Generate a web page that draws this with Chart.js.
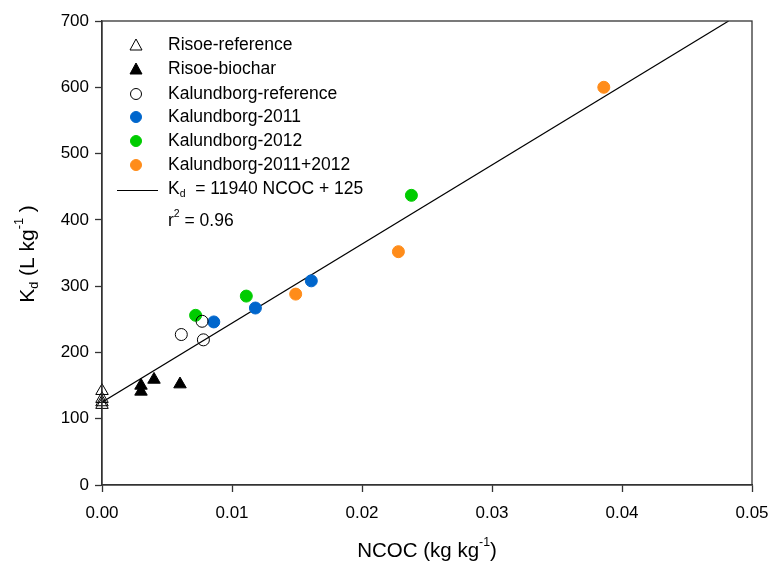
<!DOCTYPE html>
<html>
<head>
<meta charset="utf-8">
<script src="https://cdn.jsdelivr.net/npm/chart.js@4/dist/chart.umd.min.js"></script>
<style>
  html, body { margin:0; padding:0; background:#fff; }
  #wrap { width:778px; height:566px; }
</style>
</head>
<body>
<div id="wrap"><canvas id="kdChart" width="778" height="566"></canvas></div>
<script>
// values
const risoeRefX = [0, 0, 0, 0];
const risoeRefY = [142, 130, 125, 121];
const risoeBioX = [0.003, 0.003, 0.004, 0.006];
const risoeBioY = [150, 141, 159, 152];
const kalRefX = [0.0061, 0.0077, 0.0078];
const kalRefY = [227, 247, 219];
const kal2011X = [0.0086, 0.0118, 0.0161];
const kal2011Y = [246, 267, 308];
const kal2012X = [0.0072, 0.0111, 0.0238];
const kal2012Y = [256, 285, 437];
const kalBothX = [0.0149, 0.0228, 0.0386];
const kalBothY = [288, 352, 600];
// regression line end points (Kd = 11940 NCOC + 125)
const fitX = [0, 0.0482];
const fitY = [125, 700];

const xTicks = [0, 0.01, 0.02, 0.03, 0.04, 0.05];
const yTicks = [0, 100, 200, 300, 400, 500, 600, 700];

const FONT = "'Liberation Sans', Arial, sans-serif";

function pts(xs, ys){ return xs.map((x,i)=>({x:x, y:ys[i]})); }

const series = [
  { label:'Risoe-reference', x:risoeRefX, y:risoeRefY, style:'triangle', fill:'rgba(0,0,0,0)', stroke:'#000' },
  { label:'Risoe-biochar', x:risoeBioX, y:risoeBioY, style:'triangle', fill:'#000', stroke:'#000' },
  { label:'Kalundborg-reference', x:kalRefX, y:kalRefY, style:'circle', fill:'rgba(0,0,0,0)', stroke:'#000' },
  { label:'Kalundborg-2011', x:kal2011X, y:kal2011Y, style:'circle', fill:'#0066CC', stroke:'#0066CC' },
  { label:'Kalundborg-2012', x:kal2012X, y:kal2012Y, style:'circle', fill:'#00CC00', stroke:'#00CC00' },
  { label:'Kalundborg-2011+2012', x:kalBothX, y:kalBothY, style:'circle', fill:'#FF8C1A', stroke:'#FF8C1A' }
];

const datasets = [{
  type:'line', label:'fit', data:pts(fitX, fitY), borderColor:'#000', borderWidth:1.2,
  pointRadius:0, fill:false, order:10
}];
series.forEach(s=>{
  datasets.push({
    type:'scatter', label:s.label, data:pts(s.x, s.y),
    pointStyle:s.style, pointRadius: s.style==='triangle' ? 7.2 : 6,
    pointBackgroundColor:s.fill, pointBorderColor:s.stroke, pointBorderWidth:1,
    clip:false, order:1
  });
});

// draw text pieces with sub/superscripts
function drawRich(ctx, parts, x, y, size, align){
  let total = 0;
  parts.forEach(p=>{
    ctx.font = (p.s ? size*0.6 : size) + 'px ' + FONT;
    total += ctx.measureText(p.t).width;
  });
  let cx = align === 'center' ? x - total/2 : x;
  parts.forEach(p=>{
    ctx.font = (p.s ? size*0.6 : size) + 'px ' + FONT;
    let dy = 0;
    if (p.s === 'sub') dy = size*0.3;
    if (p.s === 'sup') dy = -size*0.42;
    ctx.fillText(p.t, cx, y + dy);
    cx += ctx.measureText(p.t).width;
  });
}

function marker(ctx, style, fill, stroke, x, y){
  ctx.beginPath();
  if (style === 'circle') {
    ctx.arc(x, y, 5.5, 0, Math.PI*2);
  } else {
    ctx.moveTo(x, y-6);
    ctx.lineTo(x+6, y+5);
    ctx.lineTo(x-6, y+5);
    ctx.closePath();
  }
  ctx.fillStyle = fill;
  ctx.fill();
  ctx.lineWidth = 1;
  ctx.strokeStyle = stroke;
  ctx.stroke();
}

const decor = {
  id:'decor',
  afterDraw(chart){
    const ctx = chart.ctx;
    const a = chart.chartArea;
    ctx.save();
    // frame
    ctx.strokeStyle = '#333';
    ctx.lineWidth = 1.3;
    ctx.strokeRect(a.left, a.top, a.right - a.left, a.bottom - a.top);

    // legend
    ctx.fillStyle = '#000';
    ctx.textBaseline = 'middle';
    ctx.textAlign = 'left';
    const rowY = [45, 69, 94, 117, 141, 165];
    series.forEach((s,i)=>{
      marker(ctx, s.style, s.fill === 'rgba(0,0,0,0)' ? '#fff' : s.fill, s.stroke, 136, rowY[i]);
      ctx.fillStyle = '#000';
      ctx.font = '17.5px ' + FONT;
      ctx.fillText(s.label, 168, rowY[i]);
    });
    ctx.beginPath();
    ctx.moveTo(117, 190.5);
    ctx.lineTo(158, 190.5);
    ctx.strokeStyle = '#000';
    ctx.lineWidth = 1.2;
    ctx.stroke();
    ctx.fillStyle = '#000';
    drawRich(ctx, [{t:'K'},{t:'d',s:'sub'},{t:'  = 11940 NCOC + 125'}], 168, 189, 17.5, 'left');
    drawRich(ctx, [{t:'r'},{t:'2',s:'sup'},{t:' = 0.96'}], 168, 221, 17.5, 'left');

    // axis titles
    drawRich(ctx, [{t:'NCOC (kg kg'},{t:'-1',s:'sup'},{t:')'}], (a.left + a.right)/2, 551, 20.5, 'center');
    ctx.translate(28, 254);
    ctx.rotate(-Math.PI/2);
    drawRich(ctx, [{t:'K'},{t:'d',s:'sub'},{t:' (L kg'},{t:'-1',s:'sup'},{t:' )'}], 0, 0, 21, 'center');
    ctx.restore();
  }
};

new Chart(document.getElementById('kdChart'), {
  data:{ datasets:datasets },
  options:{
    responsive:false,
    animation:false,
    layout:{ padding:{ top:21, right:26, left:0, bottom:0 } },
    plugins:{ legend:{ display:false }, tooltip:{ enabled:false } },
    scales:{
      x:{
        type:'linear', min:0, max:0.05,
        afterBuildTicks(scale){ scale.ticks = xTicks.map(v=>({value:v})); },
        afterFit(scale){ scale.height = 81; scale.paddingRight = 0; scale.paddingLeft = 0; },
        grid:{ drawOnChartArea:false, drawTicks:true, tickLength:7, color:'#333', tickWidth:1.3 },
        border:{ color:'#333', width:1.3 },
        ticks:{ color:'#000', padding:11, font:{ family:FONT, size:17 }, maxRotation:0,
          callback:v=>v.toFixed(2) }
      },
      y:{
        type:'linear', min:0, max:700,
        afterBuildTicks(scale){ scale.ticks = yTicks.map(v=>({value:v})); },
        afterFit(scale){ scale.width = 102; scale.paddingTop = 0; scale.paddingBottom = 0; },
        grid:{ drawOnChartArea:false, drawTicks:true, tickLength:7, color:'#333', tickWidth:1.3 },
        border:{ color:'#333', width:1.3 },
        ticks:{ color:'#000', padding:6, font:{ family:FONT, size:17 } }
      }
    }
  },
  plugins:[decor]
});
</script>
</body>
</html>
